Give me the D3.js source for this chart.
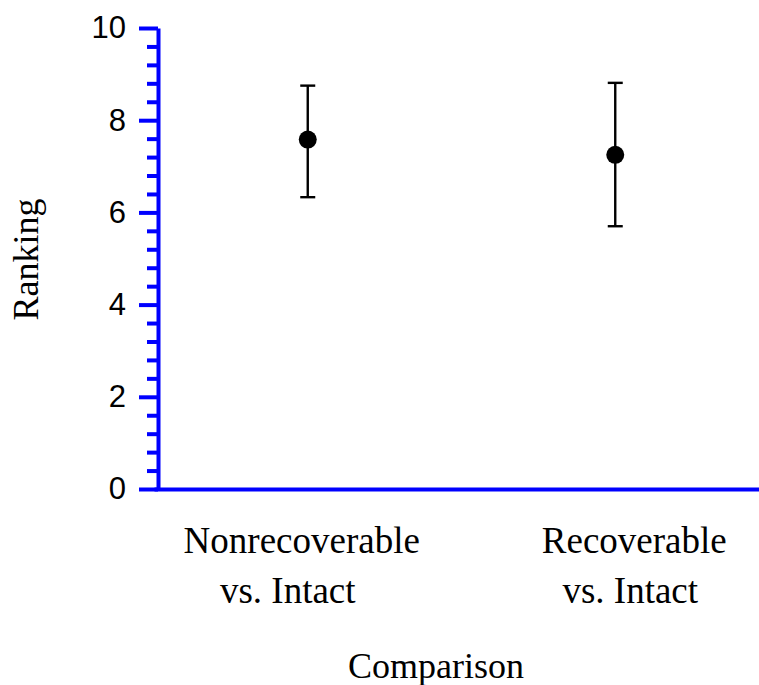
<!DOCTYPE html>
<html>
<head>
<meta charset="utf-8">
<script src="https://cdn.jsdelivr.net/npm/d3@7"></script>
<style>
  body { margin: 0; background: #fff; }
  svg { display: block; }
</style>
</head>
<body>
<div id="chart_area"></div>
<script>
// data
const categories = ['Nonrecoverable vs. Intact', 'Recoverable vs. Intact'];
const means = [7.58, 7.25];
const upper = [8.75, 8.81];
const lower = [6.33, 5.7];
const yTicks = [0, 2, 4, 6, 8, 10];

// dimensions and margins of the graph
const margin = { top: 28, right: 0, bottom: 196, left: 158 };
const width = 759 - margin.left - margin.right;
const height = 685 - margin.top - margin.bottom;
const blue = '#0000ff';

// ranges
const x = d3.scalePoint().domain(categories).range([-4, 611]).padding(0.5);
const y = d3.scaleLinear().domain([0, 10]).range([height, 0]);

// main SVG
const svg = d3
  .select('#chart_area')
  .append('svg')
  .attr('width', width + margin.left + margin.right)
  .attr('height', height + margin.top + margin.bottom)
  .append('g')
  .attr('transform', 'translate(' + margin.left + ',' + margin.top + ')');

// minor ticks (4 between each pair of labelled ticks)
const minor = d3.range(0, 10, 0.4).filter(v => Math.abs(v / 2 - Math.round(v / 2)) > 1e-6);
svg.append('g')
  .call(d3.axisLeft(y).tickValues(minor).tickSize(11).tickFormat(''))
  .call(g => g.select('.domain').remove())
  .call(g => g.selectAll('line').attr('stroke', blue).attr('stroke-width', 4));

// major ticks with labels
const yAxisGroup = svg.append('g')
  .call(d3.axisLeft(y).tickValues(yTicks).tickSize(19).tickSizeOuter(0).tickPadding(13).tickFormat(d3.format('d')));
yAxisGroup.select('.domain').attr('stroke', blue).attr('stroke-width', 4);
yAxisGroup.selectAll('line').attr('stroke', blue).attr('stroke-width', 4);
yAxisGroup.selectAll('text')
  .attr('fill', '#000')
  .attr('font-family', '"Liberation Sans", Arial, sans-serif')
  .attr('font-size', '31px');

// x axis line
const xAxisGroup = svg.append('g')
  .attr('transform', 'translate(0,' + height + ')')
  .call(d3.axisBottom(x).tickSize(0).tickSizeOuter(0).tickFormat(''));
xAxisGroup.select('.domain').attr('stroke', blue).attr('stroke-width', 4);

// category labels, two lines each
const shifts = [[-6, -20], [19, 15]];
categories.forEach(function(c, i) {
  const lines = [c.split(' vs. ')[0], 'vs. Intact'];
  lines.forEach(function(t, j) {
    svg.append('text')
      .attr('x', x(c) + shifts[i][j])
      .attr('y', height + 64 + j * 50)
      .attr('text-anchor', 'middle')
      .attr('font-family', '"Liberation Serif", "Times New Roman", serif')
      .attr('font-size', '37px')
      .attr('fill', '#000')
      .text(t);
  });
});

// axis titles
svg.append('text')
  .attr('x', 278)
  .attr('y', height + 189)
  .attr('text-anchor', 'middle')
  .attr('font-family', '"Liberation Serif", "Times New Roman", serif')
  .attr('font-size', '36px')
  .text('Comparison');

svg.append('text')
  .attr('transform', 'translate(' + (38 - margin.left) + ',' + (height / 2 + 1) + ') rotate(-90)')
  .attr('text-anchor', 'middle')
  .attr('font-family', '"Liberation Serif", "Times New Roman", serif')
  .attr('font-size', '36px')
  .text('Ranking');

// error bars
const bars = svg.selectAll('g.err').data(categories).enter().append('g').attr('class', 'err');
bars.append('line')
  .attr('x1', d => x(d)).attr('x2', d => x(d))
  .attr('y1', (d, i) => y(upper[i])).attr('y2', (d, i) => y(lower[i]))
  .attr('stroke', '#000').attr('stroke-width', 2.4);
bars.append('line')
  .attr('x1', d => x(d) - 7.5).attr('x2', d => x(d) + 7.5)
  .attr('y1', (d, i) => y(upper[i])).attr('y2', (d, i) => y(upper[i]))
  .attr('stroke', '#000').attr('stroke-width', 2.4);
bars.append('line')
  .attr('x1', d => x(d) - 7.5).attr('x2', d => x(d) + 7.5)
  .attr('y1', (d, i) => y(lower[i])).attr('y2', (d, i) => y(lower[i]))
  .attr('stroke', '#000').attr('stroke-width', 2.4);

// mean points
svg.selectAll('circle').data(categories).enter().append('circle')
  .attr('cx', d => x(d))
  .attr('cy', (d, i) => y(means[i]))
  .attr('r', 9)
  .attr('fill', '#000');
</script>
</body>
</html>
